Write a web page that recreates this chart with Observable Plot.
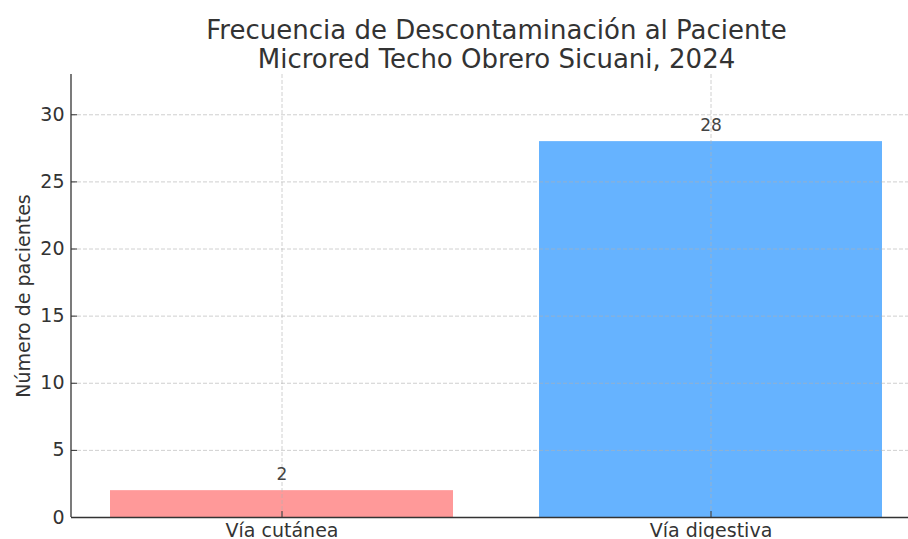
<!DOCTYPE html>
<html><head><meta charset="utf-8">
<script src="https://cdn.jsdelivr.net/npm/d3@7"></script>
<script src="https://cdn.jsdelivr.net/npm/@observablehq/plot@0.6"></script>
<style>body{margin:0;background:#fff;} svg{display:block;}</style>
</head><body><div id="chart"></div>
<script>
const categories = ["Vía cutánea", "Vía digestiva"];
const values = [2, 28];
const colors = ["#ff9999", "#66b3ff"];
const yTicks = [0, 5, 10, 15, 20, 25, 30];
const yMax = 33;
const titleLines = ["Frecuencia de Descontaminación al Paciente", "Microred Techo Obrero Sicuani, 2024"];
const yLabel = "Número de pacientes";

const data = categories.map((c, i) => ({cat: c, value: values[i]}));
const ink = "#333";
const gridStyle = {stroke: "#b0b0b0", strokeOpacity: 0.6, strokeDasharray: "4,2", strokeWidth: 1};

const plot = Plot.plot({
  width: 908, height: 539,
  marginLeft: 71, marginRight: -13, marginTop: 74, marginBottom: 22,
  style: {fontFamily: "DejaVu Sans, sans-serif", background: "#fff", overflow: "hidden"},
  x: {domain: categories, range: [71, 921], paddingInner: 0.2, paddingOuter: 0.09, align: 0.5},
  y: {domain: [0, yMax]},
  color: {domain: categories, range: colors},
  marks: [
    Plot.barY(data, {x: "cat", y: "value", fill: "cat"}),
    Plot.gridY(yTicks, gridStyle),
    Plot.gridX(categories, gridStyle),
    Plot.ruleY([0], {stroke: ink, strokeWidth: 1.3}),
    Plot.axisY(yTicks, {tickSize: 6, dx: 6, tickFormat: () => "", stroke: ink, label: null}),
    Plot.axisY(yTicks, {tickSize: 0, tickPadding: 7, fontSize: 19, fill: ink, label: null}),
    Plot.axisX(categories, {tickSize: 6, dy: -6, tickFormat: () => "", stroke: ink, label: null}),
    Plot.axisX(categories, {tickSize: 0, tickPadding: 6, fontSize: 19, fill: ink, label: null}),
    Plot.text(data, {x: "cat", y: "value", text: d => String(d.value), dy: -16.5, fontSize: 17, fill: "#444"}),
    Plot.text([titleLines.join("\n")], {text: d => d, frameAnchor: "top", textAnchor: "middle", lineAnchor: "top", dy: -56.5, fontSize: 26, lineHeight: 1.13, fill: ink}),
    Plot.text([yLabel], {text: d => d, frameAnchor: "left", textAnchor: "middle", rotate: -90, dx: -47.5, fontSize: 19, fill: ink})
  ]
});

const ys = plot.scale("y");
d3.select(plot).append("line")
  .attr("x1", 71).attr("x2", 71)
  .attr("y1", ys.apply(yMax)).attr("y2", ys.apply(0))
  .attr("stroke", ink).attr("stroke-width", 1.3);

document.getElementById("chart").appendChild(plot);
</script>
</body></html>
